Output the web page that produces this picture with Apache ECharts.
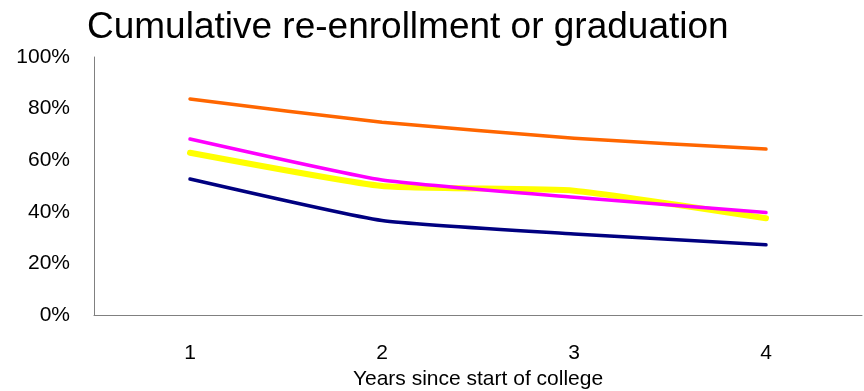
<!DOCTYPE html>
<html>
<head>
<meta charset="utf-8">
<script src="https://cdn.jsdelivr.net/npm/echarts@6/dist/echarts.min.js"></script>
<style>
  html, body { margin: 0; padding: 0; background: #fff; }
  #chart { width: 864px; height: 391px; }
</style>
</head>
<body>
<div id="chart"></div>
<script>
  // values (fraction of students)
  var years = ['1', '2', '3', '4'];
  var orangeLine = [0.837, 0.747, 0.685, 0.643];
  var magentaLine = [0.682, 0.523, 0.456, 0.397];
  var yellowLine = [0.629, 0.500, 0.482, 0.375];
  var navyLine = [0.527, 0.366, 0.314, 0.272];
  var yTicks = [0, 0.2, 0.4, 0.6, 0.8, 1];

  var font = '"Liberation Sans Narrow", "Arial Narrow", "Liberation Sans", sans-serif';

  function line(data, color, width) {
    return {
      type: 'line',
      data: data,
      smooth: 0.15,
      symbol: 'none',
      lineStyle: { color: color, width: width, cap: 'round', join: 'round' },
      itemStyle: { color: color }
    };
  }

  var chart = echarts.init(document.getElementById('chart'));
  chart.setOption({
    animation: false,
    title: {
      text: 'Cumulative re-enrollment or graduation',
      left: 82,
      top: 4,
      textStyle: { fontFamily: font, fontSize: 37, fontWeight: 'normal', color: '#000' }
    },
    grid: { left: 94, right: 2, top: 57, bottom: 76, containLabel: false, outerBoundsMode: 'none' },
    xAxis: {
      type: 'category',
      data: years,
      boundaryGap: true,
      axisLine: { lineStyle: { color: '#808080', width: 1 } },
      axisTick: { show: false },
      axisLabel: { margin: 28, fontFamily: font, fontSize: 21, color: '#000' },
      name: 'Years since start of college',
      nameLocation: 'middle',
      nameGap: 54,
      nameTextStyle: { fontFamily: font, fontSize: 21, color: '#000' }
    },
    yAxis: {
      type: 'value',
      min: yTicks[0],
      max: yTicks[yTicks.length - 1],
      interval: 0.2,
      axisLine: { show: true, lineStyle: { color: '#808080', width: 1 } },
      axisTick: { show: false },
      splitLine: { show: false },
      axisLabel: {
        margin: 24,
        fontFamily: font,
        fontSize: 21,
        color: '#000',
        formatter: function (v) { return Math.round(v * 100) + '%'; }
      }
    },
    series: [
      line(yellowLine, '#FFFF00', 6),
      line(orangeLine, '#FF6600', 3.5),
      line(magentaLine, '#FF00FF', 3.5),
      line(navyLine, '#000080', 3.5)
    ]
  });
</script>
</body>
</html>
